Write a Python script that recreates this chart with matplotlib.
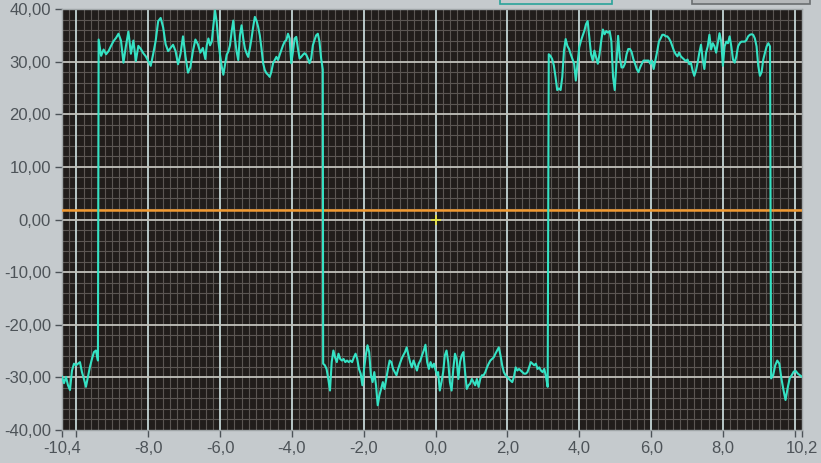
import numpy as np
import matplotlib.pyplot as plt
from matplotlib.ticker import MultipleLocator, FixedLocator, FuncFormatter
from matplotlib.patches import Rectangle

# trace, one list per stretch of the square wave
low1 = [-29.9, -31.1, -29.9, -31.5, -32.4, -28.7, -27.4, -27.7, -27.4, -27.1,
        -29.0, -30.3, -31.8, -29.9, -28.0, -26.5, -25.2, -24.9, -26.8]
high1_a = [34.2, 31.1, 32.3, 31.4, 32.0, 33.0, 33.9, 34.5, 35.3, 34.0, 29.8,
           33.0, 35.7, 31.5, 34.0, 30.1, 33.0, 32.4, 31.6, 31.0, 30.1, 29.2,
           31.5, 34.0, 37.7, 38.3, 36.5, 33.3, 32.0, 32.6, 33.2, 32.0, 29.5,
           31.5, 34.8, 31.0, 27.9, 29.0, 32.0, 34.2, 33.3, 31.7, 32.6, 30.5]
high1_b = [33.1, 34.4, 33.1, 33.8, 36.9, 39.7, 37.5, 33.8, 31.3, 29.1, 27.5,
           29.4, 31.3, 31.9, 33.1, 35.7, 37.8, 34.4, 31.9, 30.3, 35.0, 36.9,
           34.4, 32.5, 31.6, 30.9, 32.5, 34.4, 36.6, 38.5, 37.8, 36.6, 35.0,
           32.5, 29.7, 28.4, 27.8, 27.5, 27.1, 28.1, 29.7, 30.3, 30.9, 30.3,
           31.3, 32.2, 33.1, 33.8, 34.1, 35.3, 34.4, 29.7, 31.9, 34.4, 34.7,
           32.5, 30.6, 30.9, 31.3, 31.6, 31.3, 30.6, 29.7, 30.6, 33.1, 34.1,
           35.0, 35.3, 33.8, 30.6, 28.5]
low2_a = [-27.4, -27.7, -28.4, -30.3, -32.5, -27.1, -24.9, -26.2, -27.1, -25.5,
          -26.5, -26.8, -26.5, -27.1, -26.8, -27.1, -26.8, -27.1, -26.2, -25.5,
          -26.5, -28.4, -29.3, -31.5, -28.4, -25.8, -23.9, -25.2, -29.6, -30.9,
          -29.0, -31.5, -35.3, -33.4, -32.2, -30.9, -32.2, -30.3, -28.4, -26.8,
          -27.1, -28.4, -29.0, -29.6, -28.4, -27.4, -26.5, -25.8, -25.2, -24.3,
          -25.8, -27.1, -28.1, -26.8, -27.7, -28.7, -27.4, -26.8, -25.8, -24.9,
          -23.8, -27.1, -28.4, -27.1, -28.1, -27.4, -28.7, -29.6]
low2_b = [-29.0, -32.5, -30.9, -29.0, -25.8, -24.9, -27.1, -30.9, -32.5, -28.4,
          -25.5, -26.5, -30.3, -27.1, -25.8, -25.2, -29.0, -32.2, -31.5, -31.2,
          -30.3, -30.9, -31.5, -30.3, -31.8, -30.3, -29.6, -29.6, -29.0, -28.1,
          -27.4, -26.8, -26.5, -26.2, -25.5, -24.9, -24.3, -25.8, -27.7, -29.0,
          -29.6, -29.9, -30.3, -30.6, -30.9, -29.9, -28.1, -28.7, -28.4, -28.7,
          -29.0, -29.3, -29.3, -29.0, -28.1, -27.1, -27.4, -27.7, -27.4, -28.4,
          -28.1, -28.7, -29.0, -28.4, -29.9, -31.8]
high2_a = [31.4, 31.1, 30.5, 29.3, 27.1, 24.6, 24.9, 24.6, 27.1, 32.1, 34.3,
           33.0, 32.4, 31.4, 30.5, 29.6, 26.4, 29.6, 32.7, 33.9, 34.9, 35.8,
           37.1, 37.7, 34.6, 31.4, 30.2, 32.1, 30.8, 29.6, 31.4, 33.9, 36.1,
           35.2, 35.8, 35.5, 35.8, 33.9, 27.1, 24.6, 29.6, 34.9, 30.8, 28.9,
           28.9, 29.6, 31.4, 32.4, 32.4, 31.8, 30.5, 29.6, 28.6, 28.0, 28.9,
           29.6, 30.2, 30.2, 30.2, 30.2, 29.6, 30.2, 28.6]
high2_b = [32.0, 33.8, 34.4, 35.1, 35.1, 34.8, 34.8, 34.4, 33.8, 32.9, 32.0,
           31.4, 31.0, 31.7, 31.0, 30.7, 30.4, 30.1, 30.4, 29.5, 29.8, 28.3,
           27.3, 28.3, 29.8, 31.7, 33.2, 30.4, 28.6, 31.7, 32.9, 35.1, 32.3,
           33.5, 32.9, 31.7, 33.5, 35.4, 33.8, 29.2, 32.9, 33.8, 33.5, 34.8,
           32.9, 30.4, 29.8, 31.0, 32.9, 33.5, 33.8, 33.8, 33.8, 34.1, 34.8,
           35.1, 35.2, 35.1, 34.4, 32.9, 29.2, 27.3, 28.0, 30.4, 31.7, 32.9,
           33.5, 32.9]
low3 = [-30.2, -29.6, -27.7, -26.8, -27.4, -30.2, -32.4, -34.3, -32.1, -30.2,
        -29.6, -28.9, -28.8, -29.3, -29.6, -29.9]

# time span covered by each stretch
spans = [(-10.40, -9.40), (-9.38, -6.41), (-6.37, -3.14), (-3.13, 0.05),
         (0.07, 3.12), (3.15, 6.07), (6.17, 9.31), (9.34, 10.20)]
stretches = [low1, high1_a, high1_b, low2_a, low2_b, high2_a, high2_b, low3]

trigger_level = 1.8

t = np.concatenate([np.linspace(a, b, len(s)) for (a, b), s in zip(spans, stretches)])
v = np.concatenate([np.array(s) for s in stretches])

fig = plt.figure(figsize=(8.21, 4.63), dpi=100)
fig.patch.set_facecolor('#c5cacd')
W, H = 821, 463
ax = fig.add_axes([62 / W, 1 - 430 / H, (802 - 62) / W, (430 - 9) / H])
ax.set_facecolor('#211d1b')

ax.set_xlim(-10.4, 10.2)
ax.set_ylim(-40, 40)

# grid like the scope screen
ax.xaxis.set_minor_locator(MultipleLocator(0.2))
ax.yaxis.set_minor_locator(MultipleLocator(2))
ax.grid(which='minor', color='#5b5653', linewidth=0.8)
for xv in np.arange(-10, 10.1, 2):
    ax.axvline(xv, color='#c4d6d6', linewidth=1.3, zorder=1)
for yv in np.arange(-30, 31, 10):
    ax.axhline(yv, color='#c2c2bc', linewidth=1.3, zorder=1)
ax.set_axisbelow(True)

xt = [-10.4, -10.0, -8.0, -6.0, -4.0, -2.0, 0.0, 2.0, 4.0, 6.0, 8.0, 10.0, 10.2]
xl = ['-10,4', '', '-8,0', '-6,0', '-4,0', '-2,0', '0,0', '2,0', '4,0', '6,0',
      '8,0', '', '10,2']
ax.xaxis.set_major_locator(FixedLocator(xt))
ax.set_xticklabels(xl)
ax.yaxis.set_major_locator(MultipleLocator(10))
ax.yaxis.set_major_formatter(FuncFormatter(lambda y, p: f'{y:.2f}'.replace('.', ',')))

ax.tick_params(which='major', length=5, width=1, color='#4d5358',
               labelcolor='#4d5358', labelsize=12, pad=3)
ax.tick_params(which='minor', length=0)
for lab in ax.get_xticklabels() + ax.get_yticklabels():
    lab.set_family('Liberation Sans')

for s in ax.spines.values():
    s.set_color('#a0a6a8')
    s.set_linewidth(1)

ax.axhline(trigger_level, color='#f29a32', linewidth=1.8, zorder=3)
ax.plot(t, v, color='#35e2c4', linewidth=1.5, zorder=4)
ax.plot([0], [0], marker='+', color='#e8e43c', markersize=7, mew=1.2, zorder=5)

# bits of the window controls cut off at the top of the photo
fig.patches.append(Rectangle((500 / W, 1 - 4 / H), 112 / W, 6 / H, transform=fig.transFigure,
                             facecolor='#c5cacd', edgecolor='#2aa39a', linewidth=1.2))
fig.patches.append(Rectangle((692 / W, 1 - 4 / H), 118 / W, 6 / H, transform=fig.transFigure,
                             facecolor='#b5b8ba', edgecolor='#6a6e70', linewidth=1.2))

plt.savefig('out.png', dpi=100, facecolor=fig.get_facecolor())
